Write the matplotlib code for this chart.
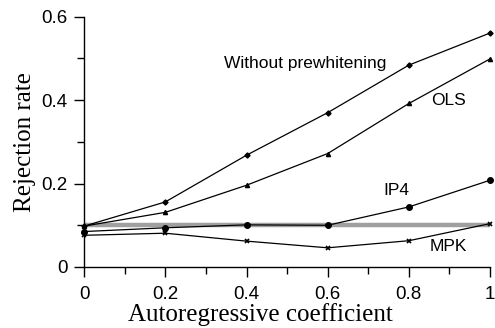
import matplotlib
matplotlib.use("Agg")
import matplotlib.pyplot as plt
from matplotlib.ticker import MultipleLocator

x = [0, 0.2, 0.4, 0.6, 0.8, 1.0]
without_prewhitening = [0.098, 0.156, 0.268, 0.370, 0.484, 0.561]
ols = [0.098, 0.131, 0.196, 0.272, 0.392, 0.499]
ip4 = [0.085, 0.094, 0.101, 0.100, 0.144, 0.208]
mpk = [0.076, 0.081, 0.062, 0.046, 0.063, 0.104]
nominal = 0.1
xticks = [0, 0.2, 0.4, 0.6, 0.8, 1]
xticklabels = ["0", "0.2", "0.4", "0.6", "0.8", "1"]
yticks = [0, 0.2, 0.4, 0.6]
yticklabels = ["0", "0.2", "0.4", "0.6"]

fig = plt.figure(figsize=(4.95, 3.28), dpi=100)
ax = fig.add_axes([0.170, 0.186, 0.820, 0.763])

ax.plot([0, 1], [nominal, nominal], color="#a0a0a0", lw=3.2, solid_capstyle="butt", zorder=1)
ax.plot(x, without_prewhitening, color="black", lw=0.9, marker="D", ms=2.6, clip_on=False, zorder=3)
ax.plot(x, ols, color="black", lw=0.9, marker="^", ms=3.0, clip_on=False, zorder=3)
ax.plot(x, ip4, color="black", lw=0.9, marker="o", ms=4, clip_on=False, zorder=3)
ax.plot(x, mpk, color="black", lw=0.9, marker="x", ms=3.3, mew=1.2, clip_on=False, zorder=3)

sans = "Liberation Sans"
serif = "Liberation Serif"
ax.text(0.545, 0.488, "Without prewhitening", family=sans, fontsize=12.5, ha="center", va="center")
ax.text(0.897, 0.40, "OLS", family=sans, fontsize=12.5, ha="center", va="center")
ax.text(0.77, 0.184, "IP4", family=sans, fontsize=12.5, ha="center", va="center")
ax.text(0.897, 0.048, "MPK", family=sans, fontsize=12.5, ha="center", va="center")

ax.set_xlim(0, 1)
ax.set_ylim(0, 0.6)
ax.set_xticks(xticks)
ax.set_xticklabels(xticklabels, family=sans, fontsize=13.5)
ax.set_yticks(yticks)
ax.set_yticklabels(yticklabels, family=sans, fontsize=13.5)
ax.xaxis.set_minor_locator(MultipleLocator(0.1))
ax.yaxis.set_minor_locator(MultipleLocator(0.1))
ax.tick_params(which="major", direction="out", length=7, width=1)
ax.tick_params(which="minor", direction="out", length=5, width=1)
ax.tick_params(axis="x", which="major", pad=7)
ax.tick_params(axis="y", which="major", pad=5)
for s in ["top", "right"]:
    ax.spines[s].set_visible(False)
for s in ["left", "bottom"]:
    ax.spines[s].set_linewidth(1)

ax.set_xlabel("Autoregressive coefficient", family=serif, fontsize=18)
ax.xaxis.set_label_coords(0.435, -0.142)
ax.set_ylabel("Rejection rate", family=serif, fontsize=18, labelpad=4)

fig.savefig("out.png", dpi=100)
